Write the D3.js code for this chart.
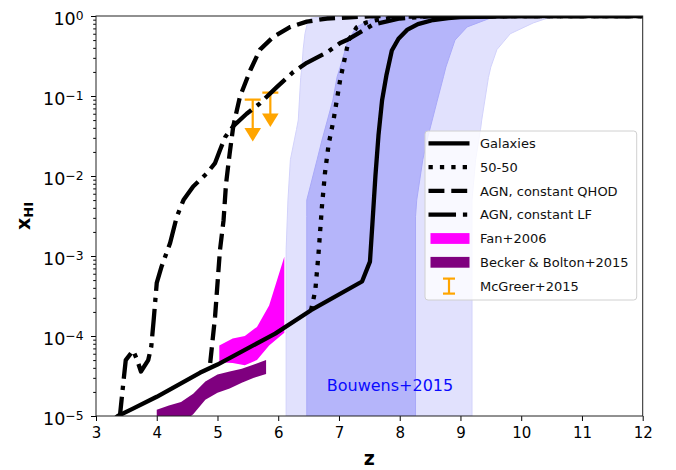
<!DOCTYPE html>
<html>
<head>
<meta charset="utf-8">
<script src="https://cdn.jsdelivr.net/npm/d3@7"></script>
<style>
  body { margin: 0; background: #fff; }
  svg { display: block; }
</style>
</head>
<body>
<svg id="chart" width="676" height="470"></svg>
<script>
// ---------------- data ----------------
// Neutral hydrogen fraction x_HI versus redshift z for each reionization model
const galaxiesZ = [3.2, 3.36, 3.6, 4.0, 4.71, 5.0, 5.95, 6.54, 7.38, 7.51, 7.55, 7.60, 7.65, 7.71, 7.78, 7.87, 7.98, 8.12, 8.3, 8.55, 8.8, 9.0, 10, 11, 12];
const galaxiesX = [8e-6, 1.0e-5, 1.23e-5, 1.74e-5, 3.47e-5, 4.4e-5, 1.07e-4, 2.1e-4, 4.8e-4, 8.5e-4, 2.5e-3, 1.0e-2, 3.2e-2, 8.9e-2, 0.18, 0.37, 0.52, 0.67, 0.79, 0.89, 0.94, 0.97, 0.995, 1, 1];

const fiftyZ = [6.54, 6.61, 6.66, 6.72, 6.77, 6.83, 6.91, 7.02, 7.16, 7.29, 7.45, 7.62, 8.0, 9, 12];
const fiftyX = [2.1e-4, 3.7e-4, 1.0e-3, 4.2e-3, 1.1e-2, 2.5e-2, 5.0e-2, 0.16, 0.5, 0.72, 0.83, 0.89, 0.98, 1, 1];

const qhodZ = [4.88, 4.96, 5.04, 5.10, 5.14, 5.20, 5.26, 5.37, 5.54, 5.70, 5.92, 6.20, 6.47, 6.80, 7.5, 8, 12];
const qhodX = [4.6e-5, 1.74e-4, 1.17e-3, 2.8e-3, 7.9e-3, 1.9e-2, 4.2e-2, 9.8e-2, 0.21, 0.38, 0.55, 0.73, 0.85, 0.93, 0.99, 1, 1];

const lfZ = [3.38, 3.45, 3.49, 3.61, 3.67, 3.74, 3.86, 3.91, 3.95, 4.0, 4.08, 4.22, 4.33, 4.44, 4.60, 4.82, 4.96, 5.04, 5.13, 5.26, 5.48, 5.70, 5.98, 6.25, 6.47, 6.80, 7.02, 7.13, 7.56, 8.0, 8.5, 12];
const lfX = [7.9e-6, 2.6e-5, 5.0e-5, 6.6e-5, 5.2e-5, 3.6e-5, 5.0e-5, 7.4e-5, 1.6e-4, 4.6e-4, 7.4e-4, 1.45e-3, 3.1e-3, 5.0e-3, 7.4e-3, 1.07e-2, 1.45e-2, 2.1e-2, 3.1e-2, 4.2e-2, 6.0e-2, 8.1e-2, 0.13, 0.20, 0.26, 0.35, 0.46, 0.50, 0.78, 0.93, 0.99, 1];

// Fan+2006 constraints (lower / upper bounds)
const fanZ  = [5.03, 5.25, 5.45, 5.65, 5.85, 6.10];
const fanLo = [4.7e-5, 4.6e-5, 4.3e-5, 5.0e-5, 7.6e-5, 1.1e-4];
const fanHi = [7.6e-5, 9.3e-5, 1.0e-4, 1.3e-4, 2.4e-4, 9.8e-4];

// Becker & Bolton+2015 constraints
const bbZ  = [4.0, 4.2, 4.4, 4.6, 4.8, 5.0, 5.2, 5.4, 5.6, 5.8];
const bbLo = [7.5e-6, 7.5e-6, 8.0e-6, 1.05e-5, 1.6e-5, 1.95e-5, 2.2e-5, 2.6e-5, 3.0e-5, 3.35e-5];
const bbHi = [1.2e-5, 1.35e-5, 1.5e-5, 1.9e-5, 2.7e-5, 3.3e-5, 3.6e-5, 3.9e-5, 4.4e-5, 5.0e-5];

// McGreer+2015 upper limits
const mcZ     = [5.58, 5.87];
const mcUpper = [0.09, 0.11];
const mcArrow = [0.027, 0.041];

// Bouwens+2015 reionization history: outer and inner credible regions (z range at each x_HI level)
const bouOuterX = [1e-5, 1.2e-3, 5e-3, 0.016, 0.038, 0.05, 0.17, 0.23, 0.38, 0.6, 0.82, 0.94, 1.0];
const bouOuterZlo = [6.13, 6.13, 6.16, 6.20, 6.30, 6.33, 6.37, 6.39, 6.41, 6.44, 6.48, 6.53, 6.86];
const bouOuterZhi = [9.19, 9.19, 9.19, 9.25, 9.33, 9.35, 9.46, 9.50, 9.60, 9.82, 10.2, 10.43, 10.9];
const bouInnerX = [1e-5, 3.1e-3, 5e-3, 0.016, 0.028, 0.089, 0.174, 0.23, 0.5, 0.73, 0.94, 1.0];
const bouInnerZlo = [6.47, 6.47, 6.47, 6.64, 6.72, 6.90, 6.97, 7.02, 7.15, 7.29, 7.56, 8.0];
const bouInnerZhi = [8.26, 8.26, 8.28, 8.38, 8.45, 8.62, 8.72, 8.76, 8.91, 9.11, 9.49, 10.15];

// Axis ticks
const xTicks = [3, 4, 5, 6, 7, 8, 9, 10, 11, 12];
const yTicks = [1e-5, 1e-4, 1e-3, 1e-2, 1e-1, 1];
const yTickExp = ["\u22125", "\u22124", "\u22123", "\u22122", "\u22121", "0"];

const legendLabels = ["Galaxies", "50-50", "AGN, constant QHOD", "AGN, constant LF", "Fan+2006", "Becker & Bolton+2015", "McGreer+2015"];

// ---------------- layout ----------------
const L = 96, R = 642.7, T = 16, B = 416;
const lw = 4.3;
const svg = d3.select("#chart");
const x = d3.scaleLinear().domain([3, 12]).range([L, R]);
const y = d3.scaleLog().domain([1e-5, 1]).range([B, T]);

const colLight = "#e1e1fd", colDark = "#b5b5fa";
const colFan = "#ff00ff", colBB = "#7f007f", colMc = "#ffa500";

svg.append("defs").append("clipPath").attr("id", "plotclip")
  .append("rect").attr("x", L).attr("y", T).attr("width", R - L).attr("height", B - T);

const plot = svg.append("g").attr("clip-path", "url(#plotclip)");

// Bouwens bands (horizontal areas: z range at each x_HI)
const bandArea = d3.area().curve(d3.curveLinear)
  .y(d => y(d[0])).x0(d => x(d[1])).x1(d => x(d[2]));
plot.append("path")
  .attr("d", bandArea(d3.zip(bouOuterX, bouOuterZlo, bouOuterZhi)))
  .attr("fill", colLight).attr("stroke", "#d2d2fb").attr("stroke-width", 1);
plot.append("path")
  .attr("d", bandArea(d3.zip(bouInnerX, bouInnerZlo, bouInnerZhi)))
  .attr("fill", colDark).attr("stroke", "#a9a9f8").attr("stroke-width", 1);

plot.append("text")
  .attr("x", 390).attr("y", 391)
  .attr("text-anchor", "middle")
  .attr("font-family", "'Comic Sans MS', 'DejaVu Sans', sans-serif")
  .attr("font-size", 16)
  .attr("fill", "#0a0aff")
  .text("Bouwens+2015");

// Observational constraint regions
const fillArea = d3.area().x(d => x(d[0])).y0(d => y(d[1])).y1(d => y(d[2]));
plot.append("path").attr("d", fillArea(d3.zip(fanZ, fanLo, fanHi))).attr("fill", colFan);
plot.append("path").attr("d", fillArea(d3.zip(bbZ, bbLo, bbHi))).attr("fill", colBB);

// McGreer upper limits
mcZ.forEach((z, i) => {
  const cx = x(z), yTop = y(mcUpper[i]), yTip = y(mcArrow[i]);
  const g = plot.append("g");
  g.append("line").attr("x1", cx - 8).attr("x2", cx + 8).attr("y1", yTop).attr("y2", yTop)
    .attr("stroke", colMc).attr("stroke-width", 2.2);
  g.append("line").attr("x1", cx).attr("x2", cx).attr("y1", yTop).attr("y2", yTip - 12)
    .attr("stroke", colMc).attr("stroke-width", 2.2);
  g.append("path").attr("d", `M${cx - 8.3},${yTip - 13.4}L${cx + 8.3},${yTip - 13.4}L${cx},${yTip}Z`)
    .attr("fill", colMc);
});

// Model lines
const line = d3.line().x(d => x(d[0])).y(d => y(d[1]));
const styles = {
  solid: null,
  dotted: `${lw} ${lw * 1.65}`,
  dashed: `${lw * 3.7} ${lw * 1.6}`,
  dashdot: `${lw * 6.4} ${lw * 1.6} ${lw} ${lw * 1.6}`
};
function drawLine(zs, xs, dash) {
  plot.append("path").attr("d", line(d3.zip(zs, xs)))
    .attr("fill", "none").attr("stroke", "#000").attr("stroke-width", lw)
    .attr("stroke-linejoin", "round")
    .attr("stroke-dasharray", dash);
}
drawLine(lfZ, lfX, styles.dashdot);
drawLine(qhodZ, qhodX, styles.dashed);
drawLine(fiftyZ, fiftyX, styles.dotted);
drawLine(galaxiesZ, galaxiesX, styles.solid);

// ---------------- axes ----------------
const xAxis = svg.append("g").attr("transform", `translate(0,${B})`)
  .call(d3.axisBottom(x).tickValues(xTicks).tickSize(5).tickPadding(6).tickFormat(d3.format("d")));
xAxis.select(".domain").remove();
xAxis.selectAll("text").attr("font-family", "'DejaVu Sans', sans-serif").attr("font-size", 15).attr("fill", "#000");
xAxis.selectAll("line").attr("stroke", "#000");

const yAxis = svg.append("g").attr("transform", `translate(${L},0)`)
  .call(d3.axisLeft(y).tickValues(yTicks).tickSize(5).tickPadding(7.5).tickFormat(() => ""));
yAxis.select(".domain").remove();
yAxis.selectAll("line").attr("stroke", "#000");
yAxis.selectAll(".tick text").each(function (d, i) {
  const t = d3.select(this)
    .attr("font-family", "'DejaVu Sans', sans-serif").attr("font-size", 17.5)
    .attr("fill", "#000").attr("dy", "0.47em");
  t.append("tspan").text("10");
  t.append("tspan").attr("dy", "-0.42em").attr("font-size", 12.3).text(yTickExp[i]);
});

// minor log ticks
const minor = [];
yTicks.slice(0, -1).forEach(d => { for (let k = 2; k <= 9; k++) minor.push(d * k); });
const yMinor = svg.append("g").attr("transform", `translate(${L},0)`)
  .call(d3.axisLeft(y).tickValues(minor).tickSize(2.8).tickFormat(() => ""));
yMinor.select(".domain").remove();
yMinor.selectAll("line").attr("stroke", "#000");

// frame
svg.append("rect").attr("x", L).attr("y", T).attr("width", R - L).attr("height", B - T)
  .attr("fill", "none").attr("stroke", "#222").attr("stroke-width", 1);

// axis labels
svg.append("text").attr("x", (L + R) / 2).attr("y", 465)
  .attr("text-anchor", "middle")
  .attr("font-family", "'DejaVu Sans', sans-serif").attr("font-weight", "bold").attr("font-size", 19)
  .text("z");
const yl = svg.append("text")
  .attr("transform", `translate(30,${(T + B) / 2}) rotate(-90)`)
  .attr("text-anchor", "middle")
  .attr("font-family", "'DejaVu Sans', sans-serif").attr("font-weight", "bold").attr("font-size", 19);
yl.append("tspan").text("x");
yl.append("tspan").attr("dy", "0.25em").attr("font-size", 13).text("HI");

// ---------------- legend ----------------
const lg = svg.append("g");
lg.append("rect").attr("x", 425).attr("y", 131).attr("width", 211.7).attr("height", 169).attr("rx", 3)
  .attr("fill", "#fff").attr("fill-opacity", 0.8).attr("stroke", "#d0d0d0").attr("stroke-width", 1);
const rowY = i => 143.3 + i * 23.8;
const x0 = 428.5, x1 = 469.5;
const dashKeys = ["solid", "dotted", "dashed", "dashdot"];
legendLabels.forEach((lab, i) => {
  const yy = rowY(i);
  if (i < 4) {
    lg.append("line").attr("x1", x0).attr("x2", x1).attr("y1", yy).attr("y2", yy)
      .attr("stroke", "#000").attr("stroke-width", lw).attr("stroke-dasharray", styles[dashKeys[i]]);
  } else if (i < 6) {
    lg.append("rect").attr("x", x0 + 2).attr("y", yy - 5.4).attr("width", x1 - x0 - 2).attr("height", 10.8)
      .attr("fill", i === 4 ? colFan : colBB);
  } else {
    const cx = 449;
    lg.append("line").attr("x1", cx).attr("x2", cx).attr("y1", yy - 7.5).attr("y2", yy + 7.5).attr("stroke", colMc).attr("stroke-width", 2.2);
    lg.append("line").attr("x1", cx - 6).attr("x2", cx + 6).attr("y1", yy - 7.5).attr("y2", yy - 7.5).attr("stroke", colMc).attr("stroke-width", 2.2);
    lg.append("line").attr("x1", cx - 6).attr("x2", cx + 6).attr("y1", yy + 7.5).attr("y2", yy + 7.5).attr("stroke", colMc).attr("stroke-width", 2.2);
  }
  lg.append("text").attr("x", 480).attr("y", yy).attr("dy", "0.36em")
    .attr("font-family", "'Comic Sans MS', 'DejaVu Sans', sans-serif").attr("font-size", 13)
    .attr("fill", "#111").text(lab);
});
</script>
</body>
</html>
